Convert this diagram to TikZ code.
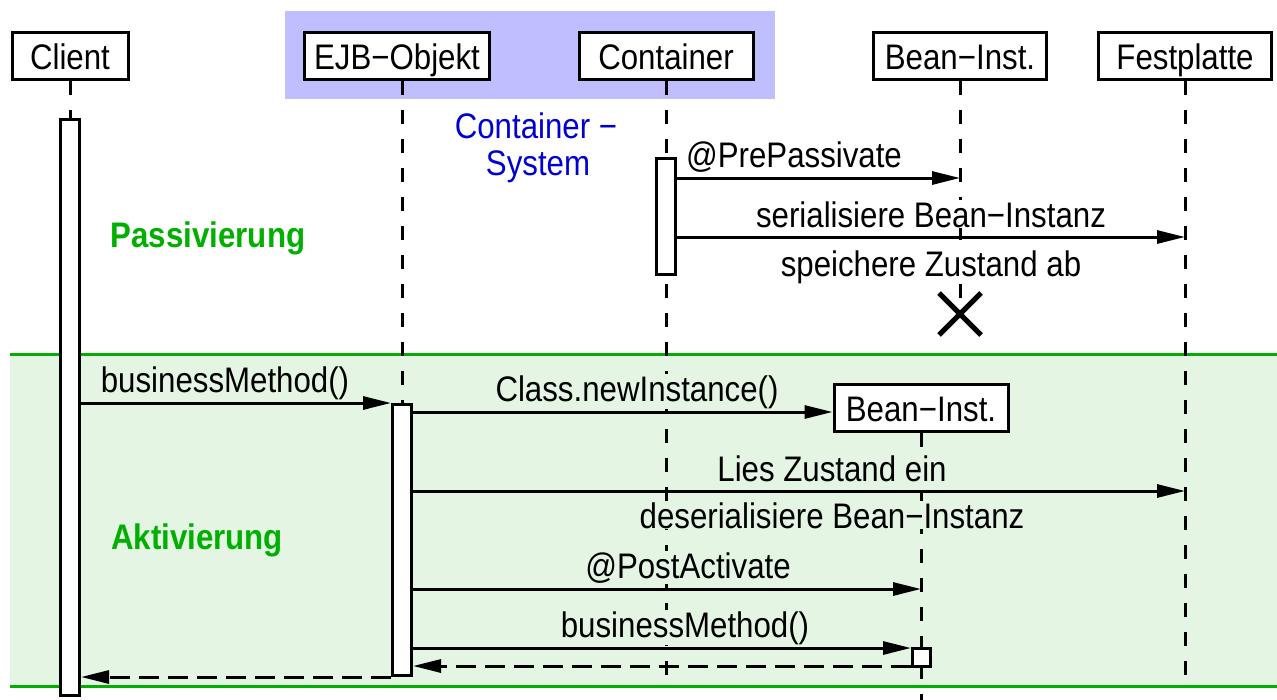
\documentclass[tikz,border=0pt]{standalone}
\usepackage{fontspec}
\setmainfont[FakeStretch=0.88]{Liberation Sans}
\usetikzlibrary{arrows.meta}
\definecolor{blueback}{RGB}{191,191,255}
\definecolor{bandgreen}{RGB}{228,245,228}
\definecolor{linegreen}{RGB}{0,175,0}
\definecolor{textblue}{RGB}{0,0,210}
\begin{document}
\begin{tikzpicture}[x=1pt,y=-1pt,
  every node/.style={font=\fontsize{35.5}{40}\selectfont},
  head/.style={draw, line width=3pt, fill=white, minimum height=47pt,
               inner sep=0pt, text height=26pt, text depth=0pt},
  act/.style={draw, line width=3pt, fill=white, minimum width=19pt, inner sep=0pt},
  life/.style={line width=3pt, dash pattern=on 14pt off 15pt},
  msg/.style={line width=3pt, -{Triangle[length=28pt,width=13pt]}},
  ret/.style={msg, dash pattern=on 20pt off 9pt},
  lbl/.style={anchor=base, inner sep=1pt, fill=white},
  blbl/.style={lbl, fill=bandgreen},
  phase/.style={anchor=base, inner sep=0pt, text=linegreen,
                font=\fontsize{35.5}{40}\selectfont\bfseries},
]
\useasboundingbox (0,0) rectangle (1277,699);

% activation phase background and container system frame
\fill[bandgreen] (10,354) rectangle (1277,686);
\fill[blueback] (285,11) rectangle (775,99);
\draw[linegreen, line width=3pt] (10,354) -- (1277,354);
\draw[linegreen, line width=3pt] (10,686) -- (1277,686);

% object heads
\node[head, minimum width=116pt] (client) at (70,56)   {Client};
\node[head, minimum width=185pt] (ejb)    at (397,56)  {EJB−Objekt};
\node[head, minimum width=174pt] (cont)   at (666,56)  {Container};
\node[head, minimum width=173pt] (bean)   at (960,56)  {Bean−Inst.};
\node[head, minimum width=173pt] (disk)   at (1185,56) {Festplatte};

% lifelines
\coordinate (beanend) at (960,300);
\draw[life] (client.south) -- (client.south |- 0,686);
\draw[life] (ejb.south -| 402,0) -- (402,686);
\draw[life] (cont.south) -- (cont.south |- 0,686);
\draw[life] (bean.south) -- (beanend);
\draw[life] (disk.south) -- (disk.south |- 0,686);

% destruction of the passivated bean instance
\coordinate (kill) at (960,314);
\draw[line width=5pt] ([shift={(-21,-21)}]kill) -- ([shift={(21,21)}]kill)
                      ([shift={(-21,21)}]kill) -- ([shift={(21,-21)}]kill);

% new bean instance
\node[head, minimum width=174pt] (bean2) at (921,408) {Bean−Inst.};
\draw[life] (bean2.south) -- (bean2.south |- 0,705);

% message labels (they mask the lifelines behind them)
\node[lbl]  (l1) at (794,167) {@PrePassivate};
\node[lbl]  (l2) at (931,227) {serialisiere Bean−Instanz};
\node[lbl]  (l3) at (931,276) {speichere Zustand ab};
\node[blbl] (l4) at (225,392) {businessMethod()};
\node[blbl] (l5) at (637,401) {Class.newInstance()};
\node[blbl] (l6) at (832,481) {Lies Zustand ein};
\node[blbl] (l7) at (832,528) {deserialisiere Bean−Instanz};
\node[blbl] (l8) at (688,578) {@PostActivate};
\node[blbl] (l9) at (685,637) {businessMethod()};

% activation bars
\node[act, minimum height=576pt] (aclient) at (70,407.5) {};
\node[act, minimum height=116pt] (acont)   at (666,216.5) {};
\node[act, minimum height=271pt] (aejb)    at (402,540) {};
\node[act, minimum height=18pt, minimum width=18pt] (abean) at (921.5,657.5) {};

% passivation messages
\draw[msg] (acont.east |- 0,178) -- (bean.south |- 0,178);
\draw[msg] (acont.east |- 0,237) -- (disk.south |- 0,237);

% activation messages
\draw[msg] (aclient.east |- 0,403) -- (aejb.north west);
\draw[msg] (aejb.east |- 0,412) -- (bean2.west |- 0,412);
\draw[msg] (aejb.east |- 0,491) -- (disk.south |- 0,491);
\draw[msg] (aejb.east |- 0,589) -- (bean2.south |- 0,589);
\draw[msg] (aejb.east |- 0,648) -- (abean.west |- 0,648);
\draw[ret] (abean.west |- 0,666) -- (aejb.east |- 0,666);
\draw[ret] (aejb.west |- 0,677) -- (aclient.east |- 0,677);

% phase and frame captions
\node[phase] (pas) at (208,247) {Passivierung};
\node[phase] (akt) at (197,549) {Aktivierung};
\node[anchor=base, inner sep=0pt, text=textblue] (cs1) at (536,138) {Container −};
\node[anchor=base, inner sep=0pt, text=textblue] (cs2) at (538,175) {System};
\end{tikzpicture}
\end{document}
